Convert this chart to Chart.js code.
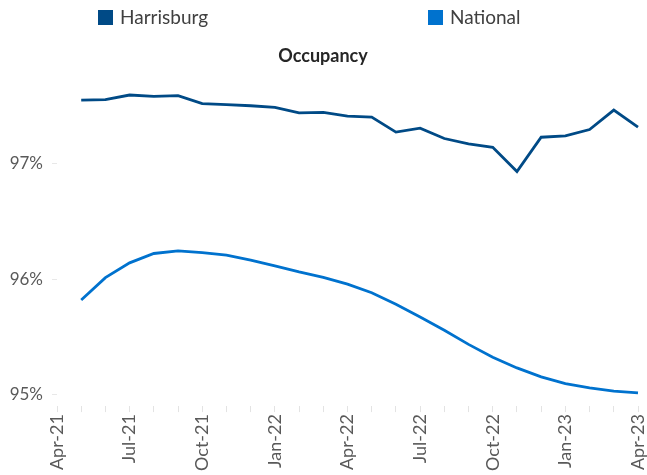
<!DOCTYPE html>
<html>
<head>
<meta charset="utf-8">
<script src="https://cdn.jsdelivr.net/npm/chart.js@4/dist/chart.umd.min.js"></script>
<style>
  html, body { margin: 0; padding: 0; background: #ffffff; }
  #wrap { width: 647px; height: 475px; position: relative; }
</style>
</head>
<body>
<div id="wrap"><canvas id="c" width="647" height="475"></canvas></div>
<script>
const categories = ["Apr-21","May-21","Jun-21","Jul-21","Aug-21","Sep-21","Oct-21","Nov-21","Dec-21",
  "Jan-22","Feb-22","Mar-22","Apr-22","May-22","Jun-22","Jul-22","Aug-22","Sep-22","Oct-22","Nov-22","Dec-22",
  "Jan-23","Feb-23","Mar-23","Apr-23"];
const harrisburg = [null, 97.553, 97.557, 97.597, 97.585, 97.591, 97.522, 97.513, 97.504, 97.490, 97.443, 97.446,
  97.414, 97.405, 97.275, 97.310, 97.220, 97.174, 97.144, 96.933, 97.231, 97.243, 97.298, 97.466, 97.318];
const national = [null, 95.820, 96.014, 96.142, 96.223, 96.246, 96.231, 96.209, 96.165, 96.116, 96.063, 96.016,
  95.957, 95.883, 95.783, 95.672, 95.557, 95.435, 95.324, 95.231, 95.153, 95.094, 95.057, 95.030, 95.015];
const yTicks = [95, 96, 97];
const seriesNames = ["Harrisburg", "National"];
const seriesColors = ["#004a86", "#0072ce"];

const FONT = "Lato, 'Open Sans', sans-serif";

const customLegend = {
  id: 'customLegend',
  afterDraw(chart) {
    const ctx = chart.ctx;
    const spots = [98, 428];
    ctx.save();
    ctx.font = "19px " + FONT;
    ctx.textBaseline = 'middle';
    ctx.textAlign = 'left';
    chart.data.datasets.forEach((ds, i) => {
      const x = spots[i];
      ctx.fillStyle = ds.borderColor;
      ctx.fillRect(x, 10, 15, 15);
      ctx.fillStyle = '#404040';
      ctx.fillText(ds.label, x + 22, 18);
    });
    ctx.restore();
  }
};

new Chart(document.getElementById('c'), {
  type: 'line',
  data: {
    labels: categories,
    datasets: [
      { label: seriesNames[0], data: harrisburg, borderColor: seriesColors[0], backgroundColor: seriesColors[0],
        borderWidth: 2.8, pointRadius: 0, tension: 0, spanGaps: false },
      { label: seriesNames[1], data: national, borderColor: seriesColors[1], backgroundColor: seriesColors[1],
        borderWidth: 2.8, pointRadius: 0, tension: 0, spanGaps: false }
    ]
  },
  options: {
    responsive: false,
    animation: false,
    devicePixelRatio: 1,
    layout: { padding: { top: 35, left: 8, right: 9, bottom: 2 } },
    plugins: {
      legend: { display: false },
      tooltip: { enabled: false },
      title: {
        display: true,
        text: 'Occupancy',
        color: '#262626',
        font: { family: FONT, size: 18, weight: 'bold' },
        padding: { top: 10, bottom: 5 }
      }
    },
    scales: {
      x: {
        type: 'category',
        offset: false,
        border: { display: false },
        grid: { drawOnChartArea: false, drawTicks: true, tickLength: 6, color: '#e3e3e3', lineWidth: 1 },
        afterFit: function(scale) { scale.paddingLeft = 0; scale.paddingRight = 0; },
        ticks: {
          autoSkip: false,
          maxRotation: 90,
          minRotation: 90,
          padding: 2,
          color: '#595959',
          font: { family: FONT, size: 18 },
          callback: function(value, index) { return index % 3 === 0 ? categories[index] : ''; }
        }
      },
      y: {
        min: 94.9,
        max: 97.8,
        border: { display: false },
        grid: { drawOnChartArea: false, drawTicks: true, tickLength: 5, color: '#e8e8e8' },
        afterBuildTicks: function(axis) { axis.ticks = yTicks.map(v => ({ value: v })); },
        afterFit: function(scale) { scale.width = 49; },
        ticks: {
          padding: 9,
          color: '#595959',
          font: { family: FONT, size: 17 },
          callback: function(v) { return v + '%'; }
        }
      }
    }
  },
  plugins: [customLegend]
});
</script>
</body>
</html>
